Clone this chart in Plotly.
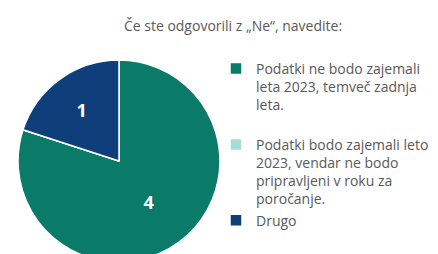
import plotly.graph_objects as go

title_text = "Če ste odgovorili z „Ne“, navedite:"
labels = [
    "Podatki ne bodo zajemali<br>leta 2023, temveč zadnja<br>leta.<br> ",
    "Podatki bodo zajemali leto<br>2023, vendar ne bodo<br>pripravljeni v roku za<br>poročanje.",
    "Drugo",
]
values = [4, 0, 1]
colors = ["#0A7B69", "#A6DDD6", "#0E3F7B"]

fig = go.Figure(go.Pie(
    labels=labels,
    values=values,
    sort=False,
    direction="clockwise",
    rotation=0,
    marker=dict(colors=colors, line=dict(color="white", width=1.5)),
    textinfo="value",
    textposition="inside",
    insidetextfont=dict(color="white", size=18, family="Open Sans"),
    texttemplate="<b>%{value}</b>",
    domain=dict(x=[10/438, 212/438], y=[0, 0.795]),
    hoverinfo="label+value",
))

fig.update_layout(
    width=438, height=254,
    margin=dict(l=0, r=0, t=0, b=0),
    paper_bgcolor="white",
    plot_bgcolor="white",
    title=dict(text=title_text, x=225/438, xanchor="center", y=1-18/254, yanchor="middle",
               font=dict(family="Open Sans", size=14, color="#595959")),
    legend=dict(x=208/438, y=1-45/254, xanchor="left", yanchor="top", valign="top",
                font=dict(family="Open Sans", size=14, color="#595959"),
                itemwidth=30, tracegroupgap=0, bgcolor="rgba(0,0,0,0)"),
    showlegend=True,
)

fig.write_html("out.html")
